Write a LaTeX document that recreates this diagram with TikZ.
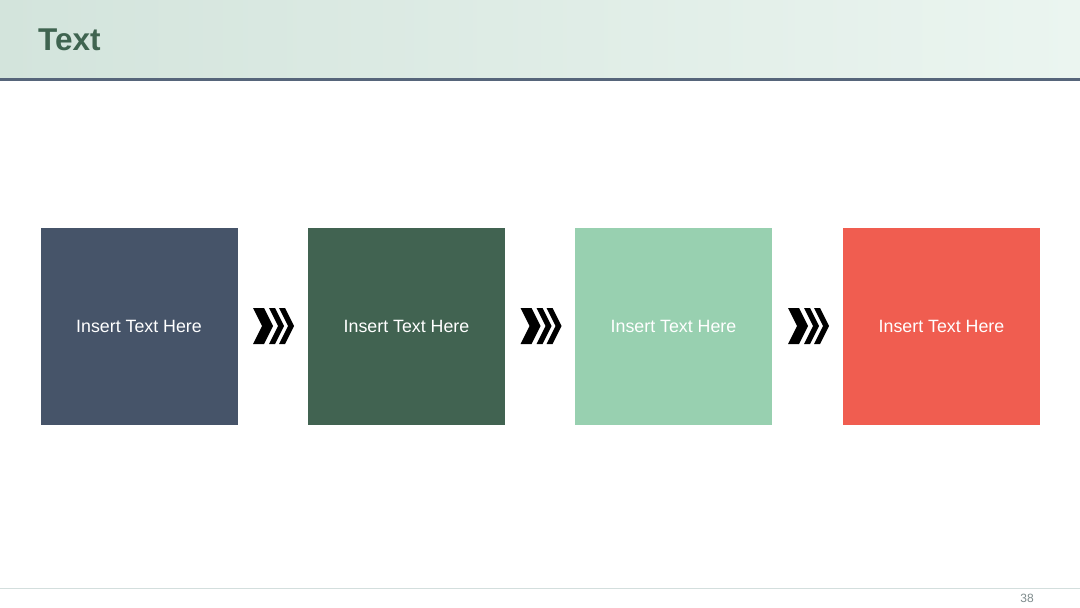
\documentclass[tikz,border=0pt]{standalone}
\usepackage{fontspec}
\setmainfont{Liberation Sans}
\definecolor{hdrL}{HTML}{D3E4DC}
\definecolor{hdrR}{HTML}{EBF5F0}
\definecolor{hdrLine}{HTML}{56657A}
\definecolor{titleC}{HTML}{3F6450}
\definecolor{cA}{HTML}{465469}
\definecolor{cB}{HTML}{416351}
\definecolor{cC}{HTML}{98D0B0}
\definecolor{cD}{HTML}{F05D50}
\definecolor{footLine}{HTML}{D3DEDD}
\definecolor{pageC}{HTML}{7F8C8D}
\begin{document}
\begin{tikzpicture}[x=1pt,y=-1pt,
  card/.style={minimum width=197pt,minimum height=197pt,inner sep=0pt,text=white,font=\fontsize{17.8}{21}\selectfont},
  chev/.style={fill=black,draw=none}]
\useasboundingbox (0,0) rectangle (1080,608);
\fill[white] (0,0) rectangle (1080,608);
% header
\shade[left color=hdrL,right color=hdrR] (0,0) rectangle (1080,78);
\fill[hdrLine] (0,78) rectangle (1080,80.5);
\node[anchor=west,text=titleC,font=\fontsize{31.5}{38}\selectfont\bfseries,inner sep=0pt] (title) at (38,40) {Text};
% cards
\node[card,fill=cA] (b1) at (139,326) {Insert Text Here};
\node[card,fill=cB] (b2) at (406.5,326) {Insert Text Here};
\node[card,fill=cC] (b3) at (673.5,326) {Insert Text Here};
\node[card,fill=cD] (b4) at (941.5,326) {Insert Text Here};
% chevrons
\foreach \ox in {0,267.5,535}{
  \begin{scope}[xshift=\ox pt]
    \fill[chev] (253,308) -- (264,308) -- (273,326) -- (264,344) -- (253,344) -- (262,326) -- cycle;
    \fill[chev] (269,308) -- (275,308) -- (284,326) -- (275,344) -- (269,344) -- (278,326) -- cycle;
    \fill[chev] (279,308) -- (285,308) -- (294,326) -- (285,344) -- (279,344) -- (288,326) -- cycle;
  \end{scope}
}
% footer
\fill[footLine] (0,587.5) rectangle (1080,589);
\node[text=pageC,font=\fontsize{12}{14}\selectfont,inner sep=0pt] (page) at (1027,598) {38};
\end{tikzpicture}
\end{document}
